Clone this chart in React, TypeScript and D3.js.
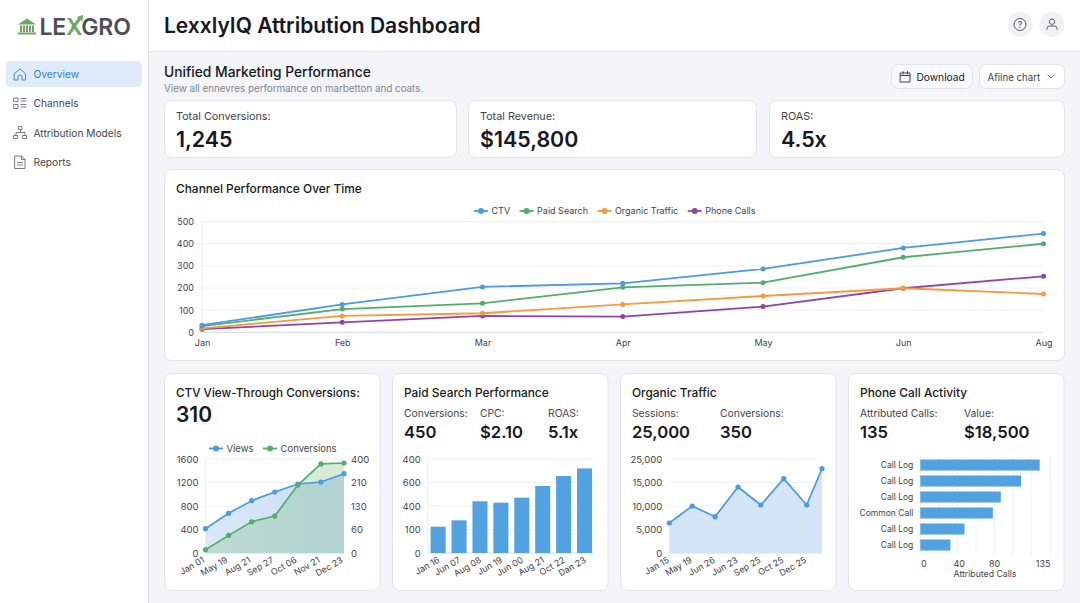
import * as d3 from "d3";
import { useEffect, useRef } from "react";

const FONT = "Inter, sans-serif";
const INK = "#16181d";
const MUTED = "#3f444c";
const BLUE = "#4a9be0";
const GREEN = "#52ad6e";
const ORANGE = "#f39a3c";
const PURPLE = "#8e44ad";

const months = ["Jan", "Feb", "Mar", "Apr", "May", "Jun", "Aug"];
const ctvMonthly = [32, 126, 205, 221, 286, 381, 446];
const paidMonthly = [28, 105, 131, 203, 224, 339, 400];
const organicMonthly = [18, 74, 86, 126, 164, 199, 173];
const phoneMonthly = [14, 45, 74, 71, 116, 199, 253];
const mainSeriesNames = ["CTV", "Paid Search", "Organic Traffic", "Phone Calls"];
const mainTicks = [0, 100, 200, 300, 400, 500];

const ctvDates = ["Jan 01", "May 19", "Aug 21", "Sep 27", "Oct 06", "Nov 21", "Dec 23"];
const ctvViews = [414, 675, 891, 1038, 1174, 1208, 1350];
const ctvConversions = [14, 75, 133, 157, 289, 379, 383];
const ctvLeftTicks = [0, 400, 800, 1200, 1600];
const ctvRightTicks = [0, 100, 200, 300, 400];
const ctvRightLabels = ["0", "60", "130", "210", "400"];

const paidDates = ["Jan 16", "Jun 07", "Aug 08", "Jun 19", "Jun 00", "Aug 21", "Oct 22", "Dan 23"];
const paidValues = [224, 278, 440, 428, 471, 570, 655, 720];
const paidTicks = [0, 200, 400, 600, 800];
const paidTickLabels = ["0", "100", "400", "600", "400"];

const organicDates = ["Jan 15", "May 19", "Jun 26", "Jun 23", "Sep 25", "Oct 25", "Dec 25"];
const organicSlots = [0, 1, 2, 3, 4, 5, 6, 6.67];
const organicSessions = [6383, 10000, 7730, 14043, 10213, 15816, 10213, 17943];
const organicTicks = [0, 5000, 10000, 15000, 20000];
const organicTickLabels = ["0", "5,000", "10,000", "15,000", "25,000"];

const callLabels = ["Call Log", "Call Log", "Call Log", "Common Call", "Call Log", "Call Log"];
const callValues = [135, 114, 91, 82, 50, 34];
const callTicks = [0, 40, 80, 135];
const callGrid = [0, 21, 42, 63, 84, 105, 126, 147];

const navItems = ["Overview", "Channels", "Attribution Models", "Reports"];
const kpiLabels = ["Total Conversions:", "Total Revenue:", "ROAS:"];
const kpiValues = ["1,245", "$145,800", "4.5x"];

type Sel = d3.Selection<any, any, any, any>;

const txt = (
  g: Sel,
  x: number,
  y: number,
  s: string,
  size: number,
  weight = 400,
  fill = INK,
  anchor = "start",
) =>
  g
    .append("text")
    .attr("x", x)
    .attr("y", y)
    .attr("font-size", size)
    .attr("font-weight", weight)
    .attr("fill", fill)
    .attr("text-anchor", anchor)
    .text(s);

const card = (g: Sel, x: number, y: number, w: number, h: number) =>
  g
    .append("rect")
    .attr("x", x + 0.5)
    .attr("y", y + 0.5)
    .attr("width", w - 1)
    .attr("height", h - 1)
    .attr("rx", 7)
    .attr("fill", "#fff")
    .attr("stroke", "#e1e4e9");

const icon = (g: Sel, x: number, y: number, d: string, stroke: string, w = 1) =>
  g
    .append("path")
    .attr("transform", `translate(${x},${y})`)
    .attr("d", d)
    .attr("fill", "none")
    .attr("stroke", stroke)
    .attr("stroke-width", w)
    .attr("stroke-linecap", "round")
    .attr("stroke-linejoin", "round");

const styleAxis = (a: Sel, size: number) => {
  a.select(".domain").remove();
  a.attr("font-family", FONT);
  a.selectAll("text").attr("font-size", size).attr("fill", MUTED);
};

const rotateLabels = (a: Sel, shift: number) => {
  a.selectAll("text")
    .attr("text-anchor", "end")
    .attr("transform", `translate(${shift},0) rotate(-30)`)
    .attr("dx", "0.1em")
    .attr("dy", "0.75em");
};

const grid = (g: Sel, y: any, ticks: number[], x0: number, x1: number, last = "#eef0f3") => {
  g.append("g")
    .selectAll("line")
    .data(ticks)
    .join("line")
    .attr("x1", x0)
    .attr("x2", x1)
    .attr("y1", (d) => y(d))
    .attr("y2", (d) => y(d))
    .attr("stroke", (d) => (d === 0 ? "#d5d8dd" : last));
};

const legend = (g: Sel, x: number, y: number, names: string[], colors: string[], size: number) => {
  let cx = x;
  names.forEach((name, i) => {
    g.append("line")
      .attr("x1", cx)
      .attr("x2", cx + 14)
      .attr("y1", y)
      .attr("y2", y)
      .attr("stroke", colors[i])
      .attr("stroke-width", 1.8);
    g.append("circle").attr("cx", cx + 7).attr("cy", y).attr("r", 3).attr("fill", colors[i]);
    const t = txt(g, cx + 17.5, y + size * 0.36, name, size, 400, MUTED);
    const w = (t.node() as SVGTextElement).getComputedTextLength();
    cx += 17.5 + w + 9.5;
  });
};

const App = () => {
  const svgRef = useRef<SVGSVGElement | null>(null);

  useEffect(() => {
    const svg = d3.select(svgRef.current);
    svg.selectAll("*").remove();
    svg.attr("font-family", FONT);

    // page frame
    svg.append("rect").attr("width", 1080).attr("height", 603).attr("fill", "#f3f5f8");
    svg.append("rect").attr("width", 148).attr("height", 603).attr("fill", "#fff");
    svg.append("rect").attr("x", 148).attr("width", 932).attr("height", 51).attr("fill", "#fff");
    svg.append("line").attr("x1", 148.5).attr("x2", 148.5).attr("y2", 603).attr("stroke", "#dfe2e6");
    svg.append("line").attr("x1", 148).attr("x2", 1080).attr("y1", 51.5).attr("y2", 51.5).attr("stroke", "#dfe2e6");

    // logo
    const logoGreen = "#6fa667";
    const logo = svg.append("g");
    logo.append("path").attr("d", "M18 24.5 L27 18.5 L36 24.5 Z").attr("fill", logoGreen);
    logo.append("rect").attr("x", 18).attr("y", 32.5).attr("width", 18).attr("height", 2).attr("fill", logoGreen);
    d3.range(20, 35, 3).forEach((px) =>
      logo.append("rect").attr("x", px).attr("y", 25.5).attr("width", 2).attr("height", 6.5).attr("fill", logoGreen),
    );
    const wordmark = logo
      .append("text")
      .attr("x", 39.5)
      .attr("y", 34.5)
      .attr("font-size", 23)
      .attr("font-weight", 600)
      .attr("fill", "#4b4f54")
      .attr("letter-spacing", -0.2);
    wordmark.append("tspan").text("LE");
    wordmark.append("tspan").attr("fill", logoGreen).text("X");
    wordmark.append("tspan").text("GRO");
    logo.append("path").attr("d", "M71 27 L79 18.5 L76.5 17 L83 15 L82.5 21.5 L80.5 20 L73 29 Z").attr("fill", logoGreen);

    // sidebar
    svg.append("rect").attr("x", 6).attr("y", 61).attr("width", 136).attr("height", 26).attr("rx", 5).attr("fill", "#ddebfb");
    const navColor = ["#3b82c4", MUTED, MUTED, MUTED];
    navItems.forEach((n, i) => txt(svg, 33.5, 78 + i * 29.35, n, 10.2, 400, navColor[i]));
    icon(svg, 14.5, 68, "M0 5.5 L5.5 1 L11 5.5 V12 H7.5 V8 Q5.5 6 3.5 8 V12 H0 Z", "#4a86c5");
    icon(svg, 14, 98, "M0 0h4v3.5h-4z M0 6.5h4v4h-4z M7 .5h5 M7 3h5 M7 6.5h5 M7 9h5", "#6b7078", 0.9);
    icon(svg, 14, 126.5, "M5 0h3v3h-3z M6.5 3v3 M2 9V6h9v3 M0 9h3.5v3h-3.5z M9 9h3.5v3h-3.5z", "#6b7078", 0.9);
    icon(svg, 15, 156, "M0 0h6.5l3.5 3.5v9h-10z M6.5 0v3.5h3.5 M2.5 6.5h5 M2.5 9h5", "#6b7078", 0.9);

    // header
    txt(svg, 164, 32.5, "LexxlyIQ Attribution Dashboard", 21, 600, INK);
    svg.append("circle").attr("cx", 1020).attr("cy", 24.5).attr("r", 12.5).attr("fill", "#f0f1f3");
    svg.append("circle").attr("cx", 1052).attr("cy", 24.5).attr("r", 12.5).attr("fill", "#f0f1f3");
    svg.append("circle").attr("cx", 1020).attr("cy", 24.5).attr("r", 6).attr("fill", "none").attr("stroke", "#55595f");
    txt(svg, 1020, 27.5, "?", 8.5, 500, "#55595f", "middle");
    icon(svg, 1047, 19, "M5 0a2.7 2.7 0 1 0 .01 0 M0 10.5v-1.2q0-2.3 2.5-2.3h5q2.5 0 2.5 2.3v1.2", "#55595f");

    // section head
    txt(svg, 164, 76.5, "Unified Marketing Performance", 13.8, 500, INK);
    txt(svg, 164, 91.5, "View all ennevres performance on marbetton and coats.", 9.8, 400, "#80858c");

    // buttons
    card(svg, 891, 64, 82, 25).attr("fill", "#f8f9fb");
    icon(svg, 900.5, 71.5, "M0 1.5h9.5v9h-9.5z M0 4h9.5 M2.5 0v2.5 M7 0v2.5", "#3f444c");
    txt(svg, 916.5, 80.5, "Download", 10.2, 400, INK);
    card(svg, 979, 64, 86, 25);
    txt(svg, 987.5, 80.5, "Afiine chart", 9.7, 400, MUTED);
    icon(svg, 1048, 75, "M0 0l3 3l3-3", "#6b7078");

    // kpi cards
    const kpiX = [164, 468, 769];
    const kpiW = [293, 289, 296];
    kpiLabels.forEach((l, i) => {
      card(svg, kpiX[i], 100, kpiW[i], 58);
      txt(svg, kpiX[i] + 12, 120, l, 10.8, 400, MUTED);
      txt(svg, kpiX[i] + 12, 146.5, kpiValues[i], 21.4, 600, INK);
    });

    // channel chart
    card(svg, 164, 169, 901, 192);
    txt(svg, 176, 193, "Channel Performance Over Time", 11.9, 500, INK);
    const mx = d3.scalePoint<string>().domain(months).range([202, 1043.5]);
    const my = d3.scaleLinear().domain([0, 500]).range([332.3, 221.6]);
    grid(svg, my, mainTicks, 202, 1043.5);
    svg.append("line").attr("x1", 202).attr("x2", 202).attr("y1", 221.6).attr("y2", 332.3).attr("stroke", "#eef0f3");
    const mainAxisY = svg
      .append("g")
      .attr("transform", "translate(202,0)")
      .call(d3.axisLeft(my).tickValues(mainTicks).tickSize(0).tickPadding(8));
    styleAxis(mainAxisY, 9);
    const mainAxisX = svg
      .append("g")
      .attr("transform", "translate(0,332.3)")
      .call(d3.axisBottom(mx).tickSize(0).tickPadding(7));
    styleAxis(mainAxisX, 9);
    const mainLine = d3
      .line<number>()
      .x((_, i) => mx(months[i])!)
      .y((d) => my(d));
    const mainSeries = [ctvMonthly, paidMonthly, organicMonthly, phoneMonthly];
    const mainColors = [BLUE, GREEN, ORANGE, PURPLE];
    [3, 2, 1, 0].forEach((k) => {
      const g = svg.append("g");
      g.append("path").attr("d", mainLine(mainSeries[k])!).attr("fill", "none").attr("stroke", mainColors[k]).attr("stroke-width", 1.8);
      g.selectAll("circle")
        .data(mainSeries[k])
        .join("circle")
        .attr("cx", (_, i) => mx(months[i])!)
        .attr("cy", (d) => my(d))
        .attr("r", 2.5)
        .attr("fill", mainColors[k]);
    });
    legend(svg, 474, 211, mainSeriesNames, mainColors, 9);

    // small chart frames
    const smallX = [164, 392, 620, 848];
    smallX.forEach((x) => card(svg, x, 373, 216.5, 218));
    const top = 459;
    const bottom = 553;

    // ctv card
    txt(svg, 176, 397, "CTV View-Through Conversions:", 11.7, 500, INK);
    txt(svg, 176, 422, "310", 21, 600, INK);
    const cx = d3.scalePoint<string>().domain(ctvDates).range([205.5, 344]);
    const cyL = d3.scaleLinear().domain([0, 1600]).range([bottom, top]);
    const cyR = d3.scaleLinear().domain([0, 400]).range([bottom, top]);
    grid(svg, cyL, ctvLeftTicks, 205.5, 344);
    svg.append("line").attr("x1", 205.5).attr("x2", 205.5).attr("y1", top).attr("y2", bottom).attr("stroke", "#eef0f3");
    const viewGradient = svg
      .append("defs")
      .append("linearGradient")
      .attr("id", "views-fill")
      .attr("x1", "0%")
      .attr("x2", "100%")
      .attr("y1", "0%")
      .attr("y2", "0%");
    viewGradient.append("stop").attr("offset", "0%").attr("stop-color", "#dce8f9");
    viewGradient.append("stop").attr("offset", "100%").attr("stop-color", "#c8dcf8");
    const viewsArea = d3
      .area<number>()
      .x((_, i) => cx(ctvDates[i])!)
      .y0(bottom)
      .y1((d) => cyL(d));
    const convArea = d3
      .area<number>()
      .x((_, i) => cx(ctvDates[i])!)
      .y0(bottom)
      .y1((d) => cyR(d));
    svg.append("path").attr("d", viewsArea(ctvViews)!).attr("fill", "url(#views-fill)");
    svg.append("path").attr("d", convArea(ctvConversions)!).attr("fill", "#79bc76").attr("fill-opacity", 0.3);
    const drawLine = (vals: number[], y: any, color: string, xAt: (i: number) => number) => {
      const l = d3
        .line<number>()
        .x((_, i) => xAt(i))
        .y((d) => y(d));
      svg.append("path").attr("d", l(vals)!).attr("fill", "none").attr("stroke", color).attr("stroke-width", 1.7);
      svg
        .append("g")
        .selectAll("circle")
        .data(vals)
        .join("circle")
        .attr("cx", (_, i) => xAt(i))
        .attr("cy", (d) => y(d))
        .attr("r", 2.6)
        .attr("fill", color);
    };
    drawLine(ctvViews, cyL, BLUE, (i) => cx(ctvDates[i])!);
    drawLine(ctvConversions, cyR, GREEN, (i) => cx(ctvDates[i])!);
    styleAxis(
      svg
        .append("g")
        .attr("transform", "translate(205.5,0)")
        .call(d3.axisLeft(cyL).tickValues(ctvLeftTicks).tickFormat(d3.format("d")).tickSize(0).tickPadding(7)),
      9.5,
    );
    styleAxis(
      svg
        .append("g")
        .attr("transform", "translate(344,0)")
        .call(
          d3
            .axisRight(cyR)
            .tickValues(ctvRightTicks)
            .tickFormat((_, i) => ctvRightLabels[i])
            .tickSize(0)
            .tickPadding(7),
        ),
      9.5,
    );
    const ctvAxis = svg.append("g").attr("transform", `translate(0,${bottom})`).call(d3.axisBottom(cx).tickSize(0).tickPadding(4));
    styleAxis(ctvAxis, 8.8);
    rotateLabels(ctvAxis, -7);
    legend(svg, 209, 448.5, ["Views", "Conversions"], [BLUE, GREEN], 9.5);

    // paid search card
    txt(svg, 404, 397, "Paid Search Performance", 11.9, 500, INK);
    const kpiBlock = (x: number, label: string, value: string) => {
      txt(svg, x, 417, label, 10.3, 400, MUTED);
      txt(svg, x, 437.5, value, 16.6, 600, INK);
    };
    kpiBlock(404, "Conversions:", "450");
    kpiBlock(480, "CPC:", "$2.10");
    kpiBlock(548, "ROAS:", "5.1x");
    const bx = d3.scaleBand<string>().domain(paidDates).range([427.7, 595]).paddingInner(0.28).paddingOuter(0.14);
    const by = d3.scaleLinear().domain([0, 800]).range([bottom, top]);
    grid(svg, by, paidTicks, 427.7, 594);
    svg.append("line").attr("x1", 427.7).attr("x2", 427.7).attr("y1", top).attr("y2", bottom).attr("stroke", "#eef0f3");
    svg
      .append("g")
      .selectAll("rect")
      .data(paidValues)
      .join("rect")
      .attr("x", (_, i) => bx(paidDates[i])!)
      .attr("width", bx.bandwidth())
      .attr("y", (d) => by(d))
      .attr("height", (d) => bottom - by(d))
      .attr("fill", "#52a2e2");
    styleAxis(
      svg
        .append("g")
        .attr("transform", "translate(427.7,0)")
        .call(
          d3
            .axisLeft(by)
            .tickValues(paidTicks)
            .tickFormat((_, i) => paidTickLabels[i])
            .tickSize(0)
            .tickPadding(7),
        ),
      9.5,
    );
    const paidAxis = svg.append("g").attr("transform", `translate(0,${bottom})`).call(d3.axisBottom(bx).tickSize(0).tickPadding(4));
    styleAxis(paidAxis, 8.8);
    rotateLabels(paidAxis, -4);

    // organic card
    txt(svg, 632, 397, "Organic Traffic", 11.9, 500, INK);
    kpiBlock(632, "Sessions:", "25,000");
    kpiBlock(720, "Conversions:", "350");
    const ox = d3.scaleLinear().domain([0, 6.67]).range([669.3, 822]);
    const oy = d3.scaleLinear().domain([0, 20000]).range([bottom, top]);
    grid(svg, oy, organicTicks, 669.3, 822);
    const organicArea = d3
      .area<number>()
      .x((_, i) => ox(organicSlots[i]))
      .y0(bottom)
      .y1((d) => oy(d));
    svg.append("path").attr("d", organicArea(organicSessions)!).attr("fill", "#d3e5f7");
    drawLine(organicSessions, oy, BLUE, (i) => ox(organicSlots[i]));
    styleAxis(
      svg
        .append("g")
        .attr("transform", "translate(669.3,0)")
        .call(
          d3
            .axisLeft(oy)
            .tickValues(organicTicks)
            .tickFormat((_, i) => organicTickLabels[i])
            .tickSize(0)
            .tickPadding(7),
        ),
      9.5,
    );
    const organicAxis = svg
      .append("g")
      .attr("transform", `translate(0,${bottom})`)
      .call(
        d3
          .axisBottom(ox)
          .tickValues(organicDates.map((_, i) => i))
          .tickFormat((_, i) => organicDates[i])
          .tickSize(0)
          .tickPadding(4),
      );
    styleAxis(organicAxis, 8.8);
    rotateLabels(organicAxis, -6);

    // phone card
    txt(svg, 860, 397, "Phone Call Activity", 11.9, 500, INK);
    kpiBlock(860, "Attributed Calls:", "135");
    kpiBlock(964, "Value:", "$18,500");
    const px = d3.scaleLinear().domain([0, 147]).range([920.3, 1050.3]);
    const rows = callLabels.map((_, i) => String(i));
    const py = d3.scaleBand<string>().domain(rows).range([457, 553]).paddingInner(0.31).paddingOuter(0.155);
    svg
      .append("g")
      .selectAll("line")
      .data(callGrid)
      .join("line")
      .attr("x1", (d) => px(d))
      .attr("x2", (d) => px(d))
      .attr("y1", 456)
      .attr("y2", 555)
      .attr("stroke", "#eef0f3");
    svg
      .append("g")
      .selectAll("rect")
      .data(callValues)
      .join("rect")
      .attr("x", px(0))
      .attr("y", (_, i) => py(rows[i])!)
      .attr("width", (d) => px(d) - px(0))
      .attr("height", py.bandwidth())
      .attr("fill", "#52a2e2");
    styleAxis(
      svg
        .append("g")
        .attr("transform", "translate(920.3,0)")
        .call(
          d3
            .axisLeft(py)
            .tickFormat((_, i) => callLabels[i])
            .tickSize(0)
            .tickPadding(7),
        ),
      8.5,
    );
    const callAxis = svg
      .append("g")
      .attr("transform", "translate(3,555)")
      .call(d3.axisBottom(px).tickValues(callTicks).tickSize(0).tickPadding(6));
    styleAxis(callAxis, 9);
    txt(svg, 985, 577, "Attributed Calls", 8.7, 400, MUTED, "middle");
  }, []);

  return <svg ref={svgRef} width={1080} height={603} style={{ position: "absolute", left: 0, top: 0 }} />;
};

export default App;
